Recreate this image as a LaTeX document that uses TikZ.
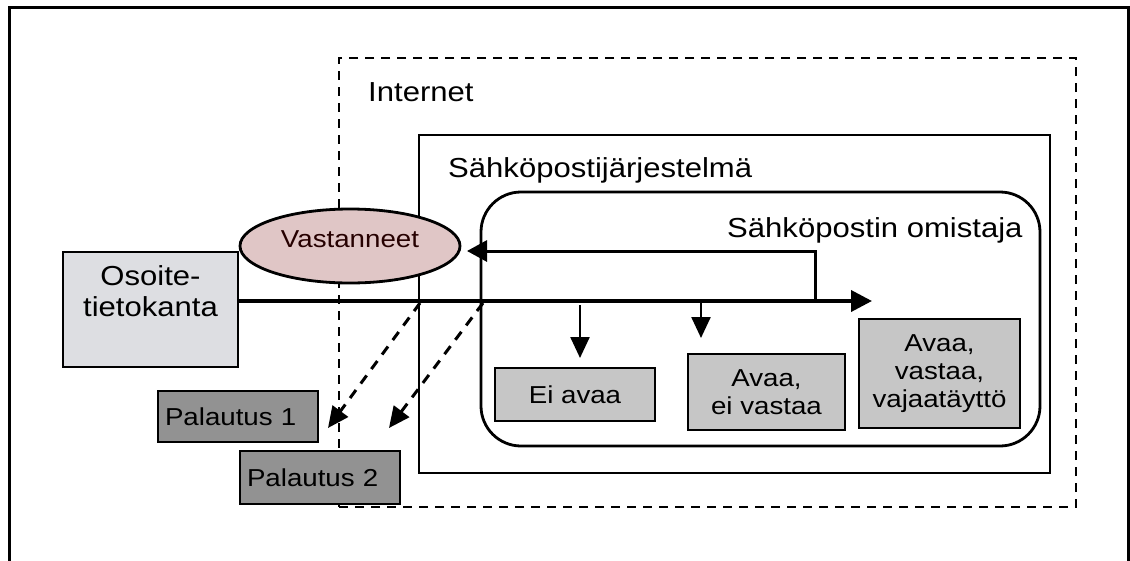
\documentclass[tikz,border=0pt]{standalone}
\usepackage{fontspec}
\setmainfont{Liberation Sans}[FakeStretch=1.13]
\usetikzlibrary{arrows.meta,shapes.geometric}
\definecolor{dbfill}{HTML}{DDDEE2}
\definecolor{catfill}{HTML}{C6C6C6}
\definecolor{retfill}{HTML}{929292}
\definecolor{ellfill}{HTML}{E0C6C6}
\tikzset{
  big/.style={font=\fontsize{27.5}{31}\selectfont},
  small/.style={font=\fontsize{24.5}{28}\selectfont},
  boxdb/.style={draw, line width=2.8pt, fill=dbfill, inner sep=0pt},
  boxcat/.style={draw, line width=2.8pt, fill=catfill, small, align=center, inner sep=0pt},
  boxret/.style={draw, line width=2.8pt, fill=retfill, small, align=left, text width=146pt, inner sep=7pt, minimum height=51pt},
  flow/.style={line width=3.8pt, -{Triangle[length=21pt,width=21pt]}},
  back/.style={line width=3pt, -{Triangle[length=20pt,width=21pt]}},
  drop/.style={line width=2.5pt, -{Triangle[length=21pt,width=19pt]}},
  bounce/.style={line width=3pt, dash pattern=on 10pt off 8pt, -{Triangle[length=21pt,width=19pt]}},
}
\begin{document}
\begin{tikzpicture}[x=1pt,y=-1pt]
\useasboundingbox (0,0) rectangle (1130,560);
\fill[white] (0,0) rectangle (1130,560);
% outer frame
\draw[line width=3pt] (9,562) -- (9,7) -- (1128,7) -- (1128,562);
% Internet (dashed)
\node[draw, line width=2.2pt, dash pattern=on 9pt off 7pt, minimum width=737pt, minimum height=449pt, inner sep=0pt] (internet) at (707.5,282.5) {};
\node[big, anchor=base west, inner sep=0pt] (internetlbl) at (368,101) {Internet};
% Email system
\node[draw, line width=2.8pt, minimum width=631pt, minimum height=338pt, inner sep=0pt] (system) at (734.5,304) {};
\node[big, anchor=base west, inner sep=0pt] (systemlbl) at (448,177) {Sähköpostijärjestelmä};
% Owner
\node[draw, line width=2.8pt, rounded corners=40pt, minimum width=559pt, minimum height=254pt, inner sep=0pt] (owner) at (760.5,319) {};
\node[big, anchor=base west, inner sep=0pt] (ownerlbl) at (727,237) {Sähköpostin omistaja};
% Vastanneet
\node[ellipse, draw, line width=2.8pt, fill=ellfill, minimum width=220pt, minimum height=74pt, inner sep=0pt, small, text height=17.5pt, text depth=15pt, text=black!85!red] (vast) at (350,246) {Vastanneet};
% Address database
\node[boxdb, minimum width=175pt, minimum height=115pt, label={[big, align=center, yshift=18pt]center:{Osoite-\\tietokanta}}] (osoite) at (150.5,309.5) {};
% categories
\node[boxcat, minimum width=160pt, minimum height=53pt] (eiavaa) at (575,394.5) {Ei avaa};
\node[boxcat, minimum width=157pt, minimum height=76pt] (avaaei) at (766.5,392) {Avaa,\\ei vastaa};
\node[boxcat, minimum width=161pt, minimum height=109pt] (avaavastaa) at (939.5,373.5) {Avaa,\\vastaa,\\vajaatäyttö};
% coordinates
\coordinate (mainend) at (872,301);
\coordinate (turn) at (815,301);
\coordinate (turnup) at (815,251);
\coordinate (backend) at (467,251);
\coordinate (d1s) at (580,305);
\coordinate (d1e) at (580,358);
\coordinate (d2s) at (701,301);
\coordinate (d2e) at (701,338);
\coordinate (j1) at (420,303);
\coordinate (t1) at (328,428);
\coordinate (j2) at (483,303);
\coordinate (t2) at (389,428);
% flows
\draw[flow] (osoite.east |- mainend) -- (mainend);
\draw[back] (turn) -- (turnup) -- (backend);
\draw[drop] (d1s) -- (d1e);
\draw[drop] (d2s) -- (d2e);
% returns
\node[boxret] (pal1) at (238,416.5) {Palautus 1};
\node[boxret, minimum height=53pt] (pal2) at (320,477.5) {Palautus 2};
\draw[bounce] (j1) -- (t1);
\draw[bounce] (j2) -- (t2);
\end{tikzpicture}
\end{document}
